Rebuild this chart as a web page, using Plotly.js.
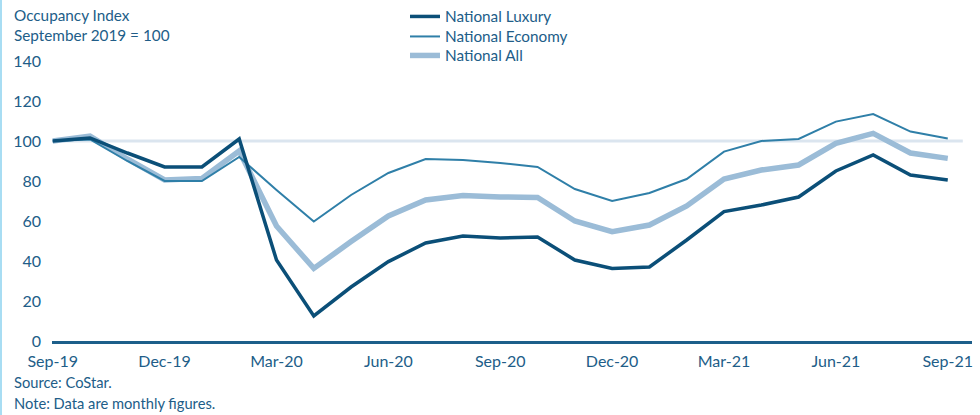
<!DOCTYPE html>
<html>
<head>
<meta charset="utf-8">
<script src="https://cdn.plot.ly/plotly-3.0.1.min.js"></script>
<style>
  html, body { margin: 0; padding: 0; background: #ffffff; }
  #wrap { width: 978px; height: 415px; border-left: 2px solid #a8ddf3; }
  #chart { width: 978px; height: 415px; }
</style>
</head>
<body>
<div id="wrap"><div id="chart"></div></div>
<script>
const months = ["Sep-19","Oct-19","Nov-19","Dec-19","Jan-20","Feb-20","Mar-20","Apr-20","May-20","Jun-20","Jul-20","Aug-20","Sep-20","Oct-20","Nov-20","Dec-20","Jan-21","Feb-21","Mar-21","Apr-21","May-21","Jun-21","Jul-21","Aug-21","Sep-21"];
const tickLabels = ["Sep-19","Dec-19","Mar-20","Jun-20","Sep-20","Dec-20","Mar-21","Jun-21","Sep-21"];
const luxury  = [100, 101.5, 94, 87, 87, 101, 40.5, 12.5, 27, 39.7, 49, 52.5, 51.5, 52, 40.5, 36.3, 37, 50.5, 64.7, 68, 72, 85, 93, 83, 80.5];
const economy = [100, 100.8, 90, 80, 80, 92, 75.5, 59.7, 73, 84, 91, 90.5, 89, 87, 76, 70, 74, 81, 94.7, 100, 101, 109.7, 113.5, 104.7, 101.3];
const all     = [100, 102.5, 91, 80.5, 81.3, 95, 57.5, 36.3, 49.7, 62.5, 70.5, 72.7, 72, 71.8, 60, 54.7, 58, 67.5, 81, 85.5, 88, 98.8, 103.8, 94, 91.3];
const baseline = 100;

const textColor = "#215d88";
const fontFam = "Lato, 'Open Sans', sans-serif";

const traces = [
  {x: months, y: all, name: "National All", type: "scatter", mode: "lines", legend: "legend3",
   line: {color: "#9bbcd7", width: 5.5}},
  {x: months, y: economy, name: "National Economy", type: "scatter", mode: "lines", legend: "legend2",
   line: {color: "#2f7fa8", width: 2}},
  {x: months, y: luxury, name: "National Luxury", type: "scatter", mode: "lines", legend: "legend",
   line: {color: "#0b4f78", width: 3.5}}
];

const L = 50, W = 978, H = 415, T = 61, B = 74, R = 8;
const pw = W - L - R, ph = H - T - B;
const px = (p) => (p - 2 - L) / pw;      // page x -> paper x
const py = (p) => (H - B - p) / ph;      // page y -> paper y

function legendAt(yPage) {
  return {
    x: px(405), y: py(yPage), xanchor: "left", yanchor: "top",
    bgcolor: "rgba(0,0,0,0)",
    font: {family: fontFam, size: 15.3, color: textColor}
  };
}

const annFont = {family: fontFam, size: 15.3, color: textColor};
const footFont = {family: fontFam, size: 14.7, color: textColor};

const layout = {
  width: W, height: H,
  margin: {l: L, r: R, t: T, b: B, autoexpand: false},
  paper_bgcolor: "#ffffff", plot_bgcolor: "#ffffff",
  font: {family: fontFam, color: textColor, size: 15},
  showlegend: true,
  legend: legendAt(0),
  legend2: legendAt(20),
  legend3: legendAt(39),
  xaxis: {
    type: "category", range: [-0.02, 24.65],
    tickvals: tickLabels, ticktext: tickLabels,
    showgrid: false, zeroline: false,
    showline: true, linecolor: "#1d5f8a", linewidth: 2.5,
    ticks: "", ticklabelstandoff: 4,
    tickfont: {family: fontFam, size: 16, color: textColor},
    fixedrange: true
  },
  yaxis: {
    range: [0, 140], tickvals: [0,20,40,60,80,100,120,140],
    showgrid: false, zeroline: false, showline: false,
    ticks: "", ticklabelstandoff: 10,
    tickfont: {family: fontFam, size: 16, color: textColor},
    fixedrange: true
  },
  shapes: [
    {type: "line", xref: "paper", x0: 0, x1: 0.99, yref: "y", y0: baseline, y1: baseline,
     line: {color: "#dbe5ef", width: 3}, layer: "below"}
  ],
  annotations: [
    {xref: "paper", yref: "paper", x: px(12), y: py(15), xanchor: "left", yanchor: "middle",
     text: "Occupancy Index", showarrow: false, font: annFont},
    {xref: "paper", yref: "paper", x: px(12), y: py(35), xanchor: "left", yanchor: "middle",
     text: "September 2019 = 100", showarrow: false, font: annFont},
    {xref: "paper", yref: "paper", x: px(12), y: py(382), xanchor: "left", yanchor: "middle",
     text: "Source: CoStar.", showarrow: false, font: footFont},
    {xref: "paper", yref: "paper", x: px(12), y: py(403), xanchor: "left", yanchor: "middle",
     text: "Note: Data are monthly figures.", showarrow: false, font: footFont}
  ]
};

Plotly.newPlot("chart", traces, layout, {displayModeBar: false, staticPlot: true});
</script>
</body>
</html>
